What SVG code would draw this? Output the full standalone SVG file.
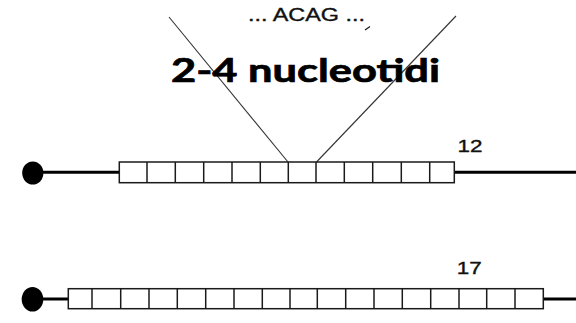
<svg xmlns="http://www.w3.org/2000/svg" width="576" height="323" viewBox="0 0 576 323">
  <style>
    .tail { stroke: #000; stroke-width: 3; fill: none; }
    .cell { stroke: #1a1a1a; stroke-width: 1.5; fill: #fff; }
    .div { stroke: #1a1a1a; stroke-width: 1.5; }
    .guide { stroke: #333; stroke-width: 1.1; fill: none; }
    .cap { fill: #000; }
    .seq { font-family: "Liberation Sans", Arial, sans-serif; font-size: 18px; fill: #111; stroke: #111; stroke-width: 0.35; }
    .count { font-family: "Liberation Sans", Arial, sans-serif; font-size: 17px; fill: #111; stroke: #111; stroke-width: 0.35; }
    .title { font-family: Lato, "Open Sans", sans-serif; font-weight: bold; font-size: 32px; fill: #000; stroke: #000; stroke-width: 0.7; }
  </style>

  <rect width="576" height="323" fill="#fff"/>

  <!-- connectors: magnification lines from the repeat unit up to the sequence -->
  <g id="connectors">
    <line class="guide" x1="169" y1="17" x2="288" y2="162"/>
    <line class="guide" x1="456" y1="16" x2="316.5" y2="162"/>
  </g>

  <!-- sequence detail -->
  <g id="sequence">
    <text class="seq" x="248" y="20.5" textLength="117" lengthAdjust="spacingAndGlyphs">... ACAG ...</text>
    <line x1="365" y1="30" x2="370" y2="26.5" stroke="#222" stroke-width="1.4"/>
  </g>

  <g id="repeat-size">
    <text class="title" x="171" y="82" textLength="269" lengthAdjust="spacingAndGlyphs">2-4 nucleotidi</text>
  </g>

  <!-- allele with 12 repeats -->
  <g id="allele-12">
    <ellipse class="cap" cx="32.8" cy="173" rx="10.6" ry="11.6"/>
    <line class="tail" x1="40" y1="172.3" x2="119.3" y2="172.3"/>
    <line class="tail" x1="454.3" y1="172.3" x2="576" y2="172.3"/>
    <rect class="cell" x="119.3" y="162" width="335" height="20.7"/>
    <g class="div">
      <line x1="147" y1="162" x2="147" y2="182.7"/>
      <line x1="175.3" y1="162" x2="175.3" y2="182.7"/>
      <line x1="203.7" y1="162" x2="203.7" y2="182.7"/>
      <line x1="232" y1="162" x2="232" y2="182.7"/>
      <line x1="260.3" y1="162" x2="260.3" y2="182.7"/>
      <line x1="288.3" y1="162" x2="288.3" y2="182.7"/>
      <line x1="316" y1="162" x2="316" y2="182.7"/>
      <line x1="344.3" y1="162" x2="344.3" y2="182.7"/>
      <line x1="372.7" y1="162" x2="372.7" y2="182.7"/>
      <line x1="401.3" y1="162" x2="401.3" y2="182.7"/>
      <line x1="429.7" y1="162" x2="429.7" y2="182.7"/>
    </g>
    <text class="count" x="457.5" y="152" textLength="25" lengthAdjust="spacingAndGlyphs">12</text>
  </g>

  <!-- allele with 17 repeats -->
  <g id="allele-17">
    <ellipse class="cap" cx="32.5" cy="299.2" rx="10.8" ry="12.3"/>
    <line class="tail" x1="40" y1="299" x2="68.3" y2="299"/>
    <line class="tail" x1="543.3" y1="299" x2="576" y2="299"/>
    <rect class="cell" x="68.3" y="288.7" width="475" height="20"/>
    <g class="div">
      <line x1="92" y1="288.7" x2="92" y2="308.7"/>
      <line x1="120.7" y1="288.7" x2="120.7" y2="308.7"/>
      <line x1="149" y1="288.7" x2="149" y2="308.7"/>
      <line x1="177.3" y1="288.7" x2="177.3" y2="308.7"/>
      <line x1="205.7" y1="288.7" x2="205.7" y2="308.7"/>
      <line x1="234" y1="288.7" x2="234" y2="308.7"/>
      <line x1="262.3" y1="288.7" x2="262.3" y2="308.7"/>
      <line x1="290" y1="288.7" x2="290" y2="308.7"/>
      <line x1="317.3" y1="288.7" x2="317.3" y2="308.7"/>
      <line x1="345.7" y1="288.7" x2="345.7" y2="308.7"/>
      <line x1="374" y1="288.7" x2="374" y2="308.7"/>
      <line x1="402.3" y1="288.7" x2="402.3" y2="308.7"/>
      <line x1="430.7" y1="288.7" x2="430.7" y2="308.7"/>
      <line x1="459" y1="288.7" x2="459" y2="308.7"/>
      <line x1="486.7" y1="288.7" x2="486.7" y2="308.7"/>
      <line x1="515" y1="288.7" x2="515" y2="308.7"/>
    </g>
    <text class="count" x="456.8" y="274.3" textLength="25" lengthAdjust="spacingAndGlyphs">17</text>
  </g>
</svg>
